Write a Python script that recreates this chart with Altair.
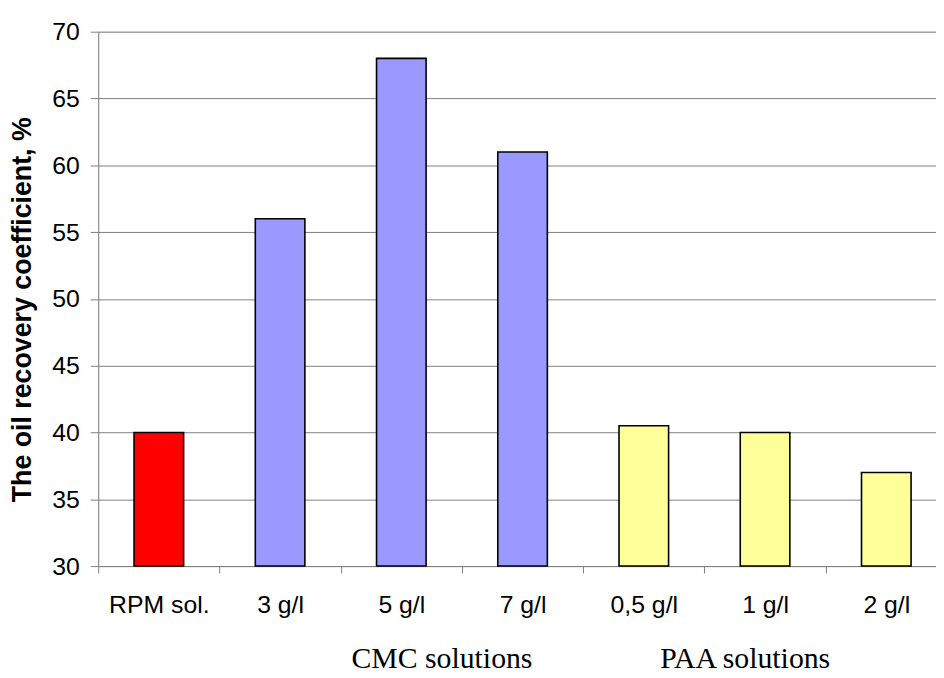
import altair as alt
import pandas as pd

categories = ["RPM sol.", "3 g/l", "5 g/l", "7 g/l", "0,5 g/l", "1 g/l", "2 g/l"]
values = [40, 56, 68, 61, 40.5, 40, 37]
groups = ["RPM", "CMC", "CMC", "CMC", "PAA", "PAA", "PAA"]
group_names = ["RPM", "CMC", "PAA"]
group_fill = ["#FF0000", "#9999FF", "#FFFF99"]
group_labels = ["CMC solutions", "PAA solutions"]
group_anchor = ["5 g/l", "1 g/l"]
y_ticks = [30, 35, 40, 45, 50, 55, 60, 65, 70]

df = pd.DataFrame({"cat": categories, "value": values, "group": groups})
lab = pd.DataFrame({"cat": group_anchor, "label": group_labels})

x_enc = alt.X(
    "cat:N",
    sort=categories,
    scale=alt.Scale(range=[0, 856], paddingInner=0, paddingOuter=0),
    axis=alt.Axis(
        title=None, labelAngle=0, labelFontSize=25, labelFont="Liberation Sans",
        labelColor="black", tickBand="extent", tickSize=7, tickColor="#808080",
        domainColor="#808080", labelPadding=20, grid=False, labelOverlap=False,
        labelBound=False,
    ),
)

y_scale = alt.Scale(domain=[30, 70], zero=False, nice=False)

bars = alt.Chart(df).mark_bar(size=50, stroke="black", strokeWidth=1.6).encode(
    x=x_enc,
    y=alt.Y(
        "value:Q",
        scale=y_scale,
        axis=alt.Axis(
            values=y_ticks, title="The oil recovery coefficient, %",
            titleFont="Liberation Sans", titleFontSize=27, titleFontWeight="bold",
            titleColor="black", titleX=-76, titleY=280, titleAngle=270,
            titleAlign="center", titleBaseline="middle",
            labelFont="Liberation Sans", labelFontSize=25, labelColor="black",
            labelPadding=11, tickSize=8, tickColor="#808080",
            domainColor="#808080", gridColor="#808080", gridWidth=1,
        ),
    ),
    y2=alt.datum(30),
    color=alt.Color("group:N", scale=alt.Scale(domain=group_names, range=group_fill), legend=None),
)

text_cmc = alt.Chart(lab).transform_filter(alt.datum.label == group_labels[0]).mark_text(
    font="Liberation Serif", fontSize=30, baseline="alphabetic", align="center", dx=41, dy=103, color="black"
).encode(x=alt.X("cat:N", sort=categories), y=alt.datum(30), text="label:N")

text_paa = alt.Chart(lab).transform_filter(alt.datum.label == group_labels[1]).mark_text(
    font="Liberation Serif", fontSize=30, baseline="alphabetic", align="center", dx=-20, dy=103, color="black"
).encode(x=alt.X("cat:N", sort=categories), y=alt.datum(30), text="label:N")

chart = alt.layer(bars, text_cmc, text_paa).properties(
    width=845, height=539,
    autosize=alt.AutoSizeParams(type="none"),
    padding={"left": 91, "top": 21, "right": 0, "bottom": 110},
).configure_view(stroke=None).configure(background="white")

chart.save("out.html", embed_options={"renderer": "svg", "actions": False})
